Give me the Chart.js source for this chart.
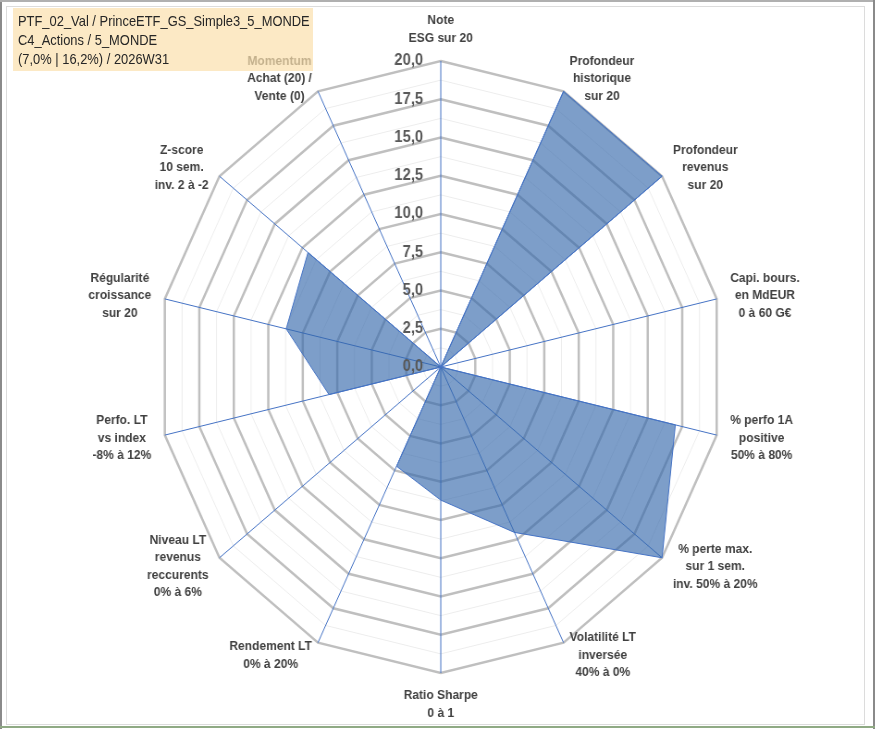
<!DOCTYPE html>
<html>
<head>
<meta charset="utf-8">
<script src="https://cdn.jsdelivr.net/npm/chart.js@4/dist/chart.umd.min.js"></script>
<style>
  html, body { margin: 0; padding: 0; background: #fff; }
  #page { position: relative; width: 875px; height: 729px; overflow: hidden; background: #fff; }
  #wrap { position: absolute; left: 6px; top: 0; width: 940px; height: 729px;
          transform: scaleX(0.925); transform-origin: 0 0; }
  #titre { position: absolute; left: 13px; top: 8px; width: 300px; height: 63px;
           background: rgba(251, 224, 172, 0.7); z-index: 5; box-sizing: border-box; }
  #titre div { position: absolute; left: 5px; top: 4px; font: 14.5px "Liberation Sans", Arial, sans-serif;
           line-height: 19px; color: #262626; white-space: nowrap;
           transform: scaleX(0.89); transform-origin: 0 0; }
  .ln { position: absolute; z-index: 6; }
</style>
</head>
<body>
<div id="page">
  <div id="wrap"><canvas id="radarChart"></canvas></div>
  <div id="titre"><div id="titreTxt"></div></div>
  <div class="ln" style="left:0;top:0;width:2px;height:729px;background:#8a8a8a"></div>
  <div class="ln" style="left:0;top:0;width:875px;height:2px;background:#b0b0b0"></div>
  <div class="ln" style="left:873px;top:0;width:2px;height:729px;background:#8a8a8a"></div>
  <div class="ln" style="left:6px;top:6px;width:857px;height:717px;border:1px solid #dcdcdc;box-sizing:content-box"></div>
  <div class="ln" style="left:0;top:726px;width:875px;height:2px;background:#8faa84"></div>
</div>
<script>
// titre (cartouche en haut à gauche)
const titreLignes = [
  'PTF_02_Val / PrinceETF_GS_Simple3_5_MONDE',
  'C4_Actions / 5_MONDE',
  '(7,0% | 16,2%) / 2026W31'
];

// axes du radar
const criteres = [
  ['Note', 'ESG sur 20'],
  ['Profondeur', 'historique', 'sur 20'],
  ['Profondeur', 'revenus', 'sur 20'],
  ['Capi. bours.', 'en MdEUR', '0 à 60 G€'],
  ['% perfo 1A', 'positive', '50% à 80%'],
  ['% perte max.', 'sur 1 sem.', 'inv. 50% à 20%'],
  ['Volatilité LT', 'inversée', '40% à 0%'],
  ['Ratio Sharpe', '0 à 1'],
  ['Rendement LT', '0% à 20%'],
  ['Niveau LT', 'revenus', 'reccurents', '0% à 6%'],
  ['Perfo. LT', 'vs index', '-8% à 12%'],
  ['Régularité', 'croissance', 'sur 20'],
  ['Z-score', '10 sem.', 'inv. 2 à -2'],
  ['Momentum', 'Achat (20) /', 'Vente (0)']
];

// notes sur 20
const notes = [0, 20, 20, 0, 17, 20, 12, 8.7, 7.2, 0, 8.1, 11.2, 12, 0];

// graduations affichées
const graduations = [0, 2.5, 5, 7.5, 10, 12.5, 15, 17.5, 20];

document.getElementById('titreTxt').innerHTML = titreLignes.join('<br>');

// étiquettes des graduations à gauche de l'axe vertical
const ticksPlugin = {
  id: 'ticksGauche',
  afterDraw(chart) {
    const scale = chart.scales.r;
    const ctx = chart.ctx;
    ctx.save();
    ctx.font = 'bold 16px "Liberation Sans", Arial, sans-serif';
    ctx.fillStyle = '#595959';
    ctx.textAlign = 'right';
    ctx.textBaseline = 'middle';
    graduations.forEach(v => {
      const p = scale.getPointPositionForValue(0, v);
      ctx.fillText(v.toFixed(1).replace('.', ','), p.x - 19, p.y);
    });
    ctx.restore();
  }
};

// libellés des axes, centrés à côté de chaque sommet (comme Excel)
const etiquettesPlugin = {
  id: 'etiquettes',
  afterDraw(chart) {
    const scale = chart.scales.r;
    const ctx = chart.ctx;
    const lh = 17.5;
    ctx.save();
    ctx.font = 'bold 13px "Liberation Sans", Arial, sans-serif';
    ctx.fillStyle = '#404040';
    ctx.textAlign = 'center';
    ctx.textBaseline = 'middle';
    criteres.forEach((lignes, i) => {
      const a = scale.getIndexAngle(i);
      const s = Math.sin(a), c = Math.cos(a);
      const p = scale.getPointPosition(i, scale.drawingArea);
      const w = Math.max(...lignes.map(t => ctx.measureText(t).width));
      const h = lignes.length * lh;
      let cx = p.x + s * 15;
      let cy = p.y - c * 14;
      if (Math.abs(s) > 0.1) cx += Math.sign(s) * w / 2;
      else cy += (c > 0 ? -1 : 1) * h / 2;
      lignes.forEach((t, k) => ctx.fillText(t, cx, cy - h / 2 + lh * (k + 0.5)));
    });
    ctx.restore();
  }
};

const canvas = document.getElementById('radarChart');
const radarChart = new Chart(canvas, {
  type: 'radar',
  data: {
    labels: criteres,
    datasets: [{
      label: 'Notes',
      data: notes,
      backgroundColor: 'rgba(52, 104, 170, 0.64)',
      borderColor: '#4472C4',
      borderWidth: 1,
      pointRadius: 0,
      fill: true
    }]
  },
  options: {
    responsive: true,
    maintainAspectRatio: false,
    animation: false,
    layout: { padding: { top: 61, bottom: 56, left: 0, right: 0 } },
    plugins: {
      legend: { display: false },
      tooltip: { enabled: false }
    },
    scales: {
      r: {
        min: 0,
        max: 20,
        ticks: {
          stepSize: 1.25,
          display: false
        },
        grid: {
          color: (c) => (c.tick && c.tick.value % 2.5 === 0) ? '#BFBFBF' : '#EDEDED',
          lineWidth: (c) => (c.tick && c.tick.value % 2.5 === 0) ? 2.5 : 1
        },
        angleLines: {
          color: '#4472C4',
          lineWidth: 1
        },
        pointLabels: { display: false }
      }
    }
  },
  plugins: [ticksPlugin, etiquettesPlugin]
});
</script>
</body>
</html>
